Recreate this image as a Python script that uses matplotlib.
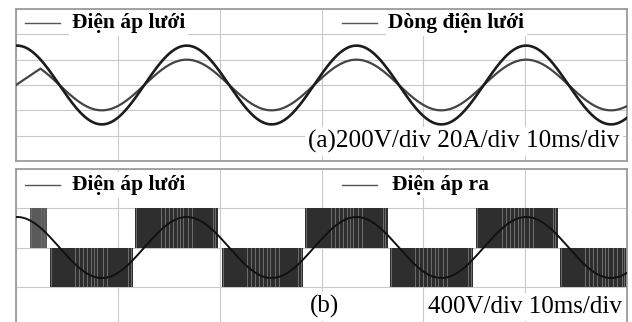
import numpy as np
import matplotlib.pyplot as plt

# ----------- SCOPE SETTINGS -----------
T_END_MS = 60.0          # 6 div x 10 ms/div
GRID_FREQ_HZ = 60.0
PEAK_T_MS = 0.1          # time of first grid-voltage peak
V_GRID_PEAK = 311.0      # V
I_GRID_PEAK = 20.0       # A
VDIV_A, ADIV_A = 200.0, 20.0
VDIV_B = 400.0
V_DC = 400.0

# grid current start-up ramp before it follows the sine
I_RAMP_T = [0.0, 2.4]
I_RAMP_A = [0.0, 12.9]

# ----------- INVERTER OUTPUT (switching blocks) -----------
BLOCK_START = [1.4, 3.3, 11.7, 20.2, 28.4, 36.7, 45.2, 53.4]
BLOCK_END = [3.0, 11.5, 19.8, 28.2, 36.5, 44.9, 53.2, 60.0]
BLOCK_SIGN = [1, -1, 1, -1, 1, -1, 1, -1]
BLOCK_SHADE = ["#5a5a5a", "#2e2e2e", "#2e2e2e", "#2e2e2e", "#2e2e2e", "#2e2e2e", "#2e2e2e", "#2e2e2e"]
# lighter stripes inside a block: offsets from block start / block end (ms)
STRIPE_FROM_START = [0.1, 2.5, 2.9, 3.3, 3.7, 4.1, 4.4, 4.7, 5.2, 5.6]
STRIPE_FROM_END = [0.25, 0.5]

FONT = ["Liberation Serif", "DejaVu Serif"]

fig = plt.figure(figsize=(6.32, 3.22), dpi=100)
W, H = 632.0, 322.0
axa = fig.add_axes([16 / W, 1 - 161 / H, 611 / W, 152 / H])
axb = fig.add_axes([16 / W, 1 - 326 / H, 611 / W, 157 / H])

t = np.linspace(0, T_END_MS, 1500)
phase = np.cos(2 * np.pi * GRID_FREQ_HZ * (t - PEAK_T_MS) / 1000.0)
v_grid = V_GRID_PEAK * phase
i_grid = I_GRID_PEAK * phase
ramp = t < I_RAMP_T[1]
i_grid[ramp] = np.interp(t[ramp], I_RAMP_T, I_RAMP_A)

for ax, ylim in ((axa, 3), (axb, 2)):
    ax.set_xlim(0, T_END_MS)
    ax.set_ylim(-ylim, ylim)
    ax.set_xticks(np.arange(0, T_END_MS + 1, 10))
    ax.set_yticks(np.arange(-ylim, ylim + 1, 1))
    ax.tick_params(length=0, labelbottom=False, labelleft=False)
    ax.grid(True, color="#c9c9c9", lw=0.8)
    ax.set_axisbelow(True)
    for s in ax.spines.values():
        s.set_color("#9c9c9c")
        s.set_linewidth(1.3)

# ----------- (a) grid voltage and current -----------
axa.plot(t, i_grid / ADIV_A, color="#444444", lw=1.6, zorder=3)
axa.plot(t, v_grid / VDIV_A, color="#1c1c1c", lw=1.9, zorder=3)

# ----------- (b) grid voltage and inverter output -----------
for st, en, sg, sh in zip(BLOCK_START, BLOCK_END, BLOCK_SIGN, BLOCK_SHADE):
    axb.bar(st, sg * V_DC / VDIV_B, width=en - st, align="edge", color=sh, lw=0, zorder=2)
    offs = [st + o for o in STRIPE_FROM_START] + [en - o for o in STRIPE_FROM_END]
    for x0 in offs:
        if st <= x0 < en - 0.1:
            axb.bar(x0, sg * V_DC / VDIV_B, width=0.1, align="edge", color="#6c6c6c", lw=0, zorder=2.5)
axb.plot(t, v_grid / VDIV_B, color="#111111", lw=1.4, zorder=3)

# ----------- legends / labels -----------
box = dict(boxstyle="square,pad=0.12", fc="white", ec="none")
legends = [
    (axa, 0.908, 0.0147, 0.072, 0.0917, "Điện áp lưới"),
    (axa, 0.908, 0.5335, 0.591, 0.609, "Dòng điện lưới"),
    (axb, 0.898, 0.0147, 0.072, 0.0917, "Điện áp lưới"),
    (axb, 0.898, 0.5335, 0.591, 0.615, "Điện áp ra"),
]
for ax, y, x0, x1, xt, label in legends:
    ax.plot([x0, x1], [y, y], transform=ax.transAxes, color="#555555", lw=1.0, zorder=4)
    ax.text(xt, y, label, transform=ax.transAxes, family=FONT, fontweight="bold",
            fontsize=15.5, va="center", ha="left", bbox=box, zorder=4)

axa.text(0.9885, 0.0855, "(a)200V/div 20A/div 10ms/div", transform=axa.transAxes,
         family=FONT, fontsize=18.1, ha="right", va="baseline", bbox=box, zorder=4)
axb.text(0.481, 0.083, "(b)", transform=axb.transAxes,
         family=FONT, fontsize=18, ha="left", va="baseline", bbox=box, zorder=4)
axb.text(0.992, 0.083, "400V/div 10ms/div", transform=axb.transAxes,
         family=FONT, fontsize=18, ha="right", va="baseline", bbox=box, zorder=4)

fig.savefig("out.png", dpi=100)
